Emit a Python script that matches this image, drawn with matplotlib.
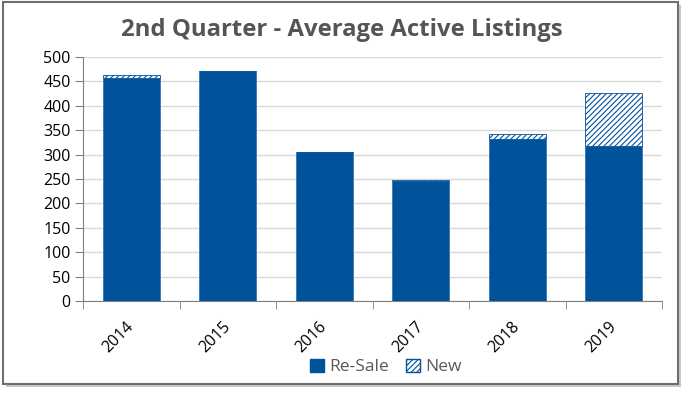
import numpy as np
import matplotlib.pyplot as plt
from matplotlib.patches import Rectangle, Patch

plt.rcParams['font.family'] = ['Open Sans', 'DejaVu Sans']
plt.rcParams['hatch.linewidth'] = 0.8

years = ['2014', '2015', '2016', '2017', '2018', '2019']
resale = [456, 471, 305, 245, 332, 317]
new = [8, 0, 1, 2, 10, 110]

blue = '#00529B'

fig = plt.figure(figsize=(6.88, 3.94), dpi=100)

# outer frame with shadow
fig.patches.append(Rectangle((6 / 688, 7 / 394), 675 / 688, 382 / 394, transform=fig.transFigure,
                             facecolor='#c8c8c8', edgecolor='none', zorder=0))
fig.patches.append(Rectangle((3 / 688, 10 / 394), 675 / 688, 382 / 394, transform=fig.transFigure,
                             facecolor='white', edgecolor='#6e6e6e', linewidth=1.5, zorder=1))

ax = fig.add_axes([83 / 688, 1 - 301 / 394, 579 / 688, 244 / 394])
ax.set_zorder(2)
ax.patch.set_alpha(0)

x = np.arange(len(years))
ax.bar(x, resale, width=0.59, color=blue, edgecolor='#3a78b8', linewidth=0.6, zorder=3)
ax.bar(x, new, width=0.59, bottom=resale, color='white', edgecolor=blue, hatch='//////',
       linewidth=0.6, zorder=3)

ax.set_xlim(-0.5, len(years) - 0.5)
ax.set_ylim(0, 500)
ax.set_yticks(range(0, 501, 50))
ax.tick_params(axis='y', labelsize=11.5, length=6, color='#808080', labelcolor='black', pad=3)
ax.set_xticks(np.arange(len(years) + 1) - 0.5, minor=True)
ax.set_xticks(x)
ax.set_xticklabels(years, rotation=45, fontsize=11.5, ha='right', va='center',
                   rotation_mode='anchor')
ax.tick_params(axis='x', which='major', length=0, pad=17)
ax.tick_params(axis='x', which='minor', length=6, color='#808080')
ax.grid(axis='y', color='#d9d9d9', linewidth=1, zorder=0)
ax.set_axisbelow(True)
for s in ['top', 'right']:
    ax.spines[s].set_visible(False)
for s in ['left', 'bottom']:
    ax.spines[s].set_color('#808080')

fig.text(0.497, 1 - 30 / 394, '2nd Quarter - Average Active Listings', ha='center', va='center',
         fontsize=17.2, fontweight='bold', color='#555555')

handles = [Patch(facecolor=blue, edgecolor=blue, label='Re-Sale'),
           Patch(facecolor='white', edgecolor=blue, hatch='//////', label='New')]
fig.legend(handles=handles, loc='center', bbox_to_anchor=(0.561, 1 - 367 / 394), ncol=2,
           frameon=False, fontsize=12.5, handlelength=0.8, handleheight=0.8, handletextpad=0.3,
           columnspacing=1.0, labelcolor='#595959')

fig.savefig('out.png', dpi=100)
